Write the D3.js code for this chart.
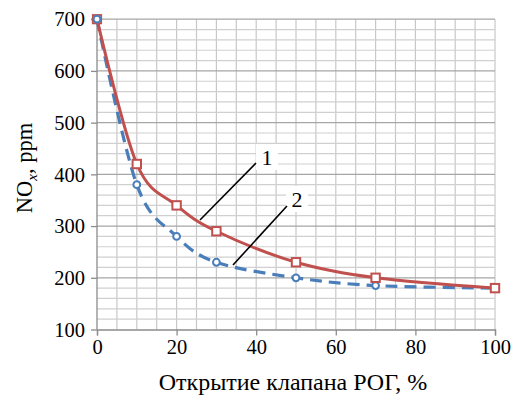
<!DOCTYPE html>
<html><head><meta charset="utf-8">
<script src="https://cdn.jsdelivr.net/npm/d3@7"></script>
<style>body{margin:0;background:#fff}svg{display:block}
text{font-family:"Liberation Serif","Times New Roman",serif}</style>
</head><body>
<svg id="c" width="512" height="396"></svg>
<script>
const xValues = [0, 10, 20, 30, 50, 70, 100];
const series1 = [700, 420, 340, 290, 230, 200, 180];
const series2 = [700, 380, 280, 230, 200, 185, 180];
const xTicks = [0, 20, 40, 60, 80, 100];
const yTicks = [100, 200, 300, 400, 500, 600, 700];
const xLabel = "Открытие клапана РОГ, %";

const svg = d3.select("#c");
const x = d3.scaleLinear().domain([0, 100]).range([97, 495]);
const y = d3.scaleLinear().domain([100, 700]).range([329.5, 19.2]);
const font = "Liberation Serif";

// grid
const g = svg.append("g");
g.selectAll(".vg").data(d3.range(5, 101, 5)).join("line")
  .attr("x1", d => x(d)).attr("x2", d => x(d))
  .attr("y1", y(700)).attr("y2", y(100))
  .attr("stroke", "#c8c8c8").attr("stroke-width", 1.2);
g.selectAll(".hg").data(d3.range(120, 701, 20)).join("line")
  .attr("x1", x(0)).attr("x2", x(100))
  .attr("y1", d => y(d)).attr("y2", d => y(d))
  .attr("stroke", d => d % 100 === 0 ? "#a6a6a6" : "#d0d0d0").attr("stroke-width", 1.2);

// axes
const xAxis = d3.axisBottom(x).tickValues(xTicks).tickSize(6).tickPadding(4);
const yAxis = d3.axisLeft(y).tickValues(yTicks).tickSize(6).tickPadding(6);
const gx = svg.append("g").attr("transform", `translate(0,${y(100)})`).call(xAxis);
const gy = svg.append("g").attr("transform", `translate(${x(0)},0)`).call(yAxis);
[gx, gy].forEach(a => {
  a.attr("font-family", null).attr("font-size", null);
  a.select(".domain").attr("stroke", "#8c8c8c").attr("stroke-width", 1.3);
  a.selectAll(".tick line").attr("stroke", "#8c8c8c").attr("stroke-width", 1.3);
  a.selectAll("text").style("font-family", font).style("font-size", "20.5px").attr("fill", "#000");
});
gy.selectAll(".tick text").attr("dy", "0.33em");
gy.select(".domain").attr("d", `M-6,${y(700)}H0V${y(100)}`);

// lines
const pts1 = xValues.map((d, i) => [d, series1[i]]);
const pts2 = xValues.map((d, i) => [d, series2[i]]);
const line = d3.line().x(d => x(d[0])).y(d => y(d[1])).curve(d3.curveCatmullRom.alpha(0));

svg.append("path").attr("d", line(pts2)).attr("fill", "none")
  .attr("stroke", "#4a7ebb").attr("stroke-width", 3.2).attr("stroke-dasharray", "12,7");
svg.append("path").attr("d", line(pts1)).attr("fill", "none")
  .attr("stroke", "#c0504d").attr("stroke-width", 3);

svg.selectAll(".m2").data(pts2).join("circle")
  .attr("cx", d => x(d[0])).attr("cy", d => y(d[1])).attr("r", 3.4)
  .attr("fill", "#fff").attr("stroke", "#4a7ebb").attr("stroke-width", 2);
svg.selectAll(".m1").data(pts1.slice(1)).join("rect")
  .attr("x", d => x(d[0]) - 4.2).attr("y", d => y(d[1]) - 4.2).attr("width", 8.4).attr("height", 8.4)
  .attr("fill", "#fff").attr("stroke", "#c0504d").attr("stroke-width", 2);
// first point: square under circle
svg.append("rect").attr("x", x(0) - 4.2).attr("y", y(700) - 4.2).attr("width", 8.4).attr("height", 8.4)
  .attr("fill", "none").attr("stroke", "#c0504d").attr("stroke-width", 1.8);
svg.append("circle").attr("cx", x(0)).attr("cy", y(700)).attr("r", 3.4)
  .attr("fill", "#fff").attr("stroke", "#4a7ebb").attr("stroke-width", 2);

// leader lines and labels
const ann = [
  {t: "1", x1: 200, y1: 220, x2: 256, y2: 163, tx: 267, ty: 165},
  {t: "2", x1: 233, y1: 265, x2: 287, y2: 206, tx: 297, ty: 207}
];
ann.forEach(a => {
  svg.append("rect").attr("x", a.tx - 11).attr("y", a.ty - 21).attr("width", 22).attr("height", 26).attr("fill", "#fff");
  svg.append("line").attr("x1", a.x1).attr("y1", a.y1).attr("x2", a.x2).attr("y2", a.y2)
    .attr("stroke", "#000").attr("stroke-width", 1.6);
  svg.append("text").attr("x", a.tx).attr("y", a.ty).attr("text-anchor", "middle")
    .style("font-family", font).style("font-size", "22px").text(a.t);
});

// axis titles
svg.append("text").attr("x", 293).attr("y", 390).attr("text-anchor", "middle")
  .style("font-family", font).style("font-size", "24px").text(xLabel);
const yt = svg.append("text").attr("transform", "translate(31.5,168) rotate(-90)")
  .attr("text-anchor", "middle").style("font-family", font).style("font-size", "22.5px");
yt.append("tspan").text("NO");
yt.append("tspan").style("font-style", "italic").style("font-size", "15px").attr("dy", 5).text("x");
yt.append("tspan").attr("dy", -5).text(", ppm");
</script>
</body></html>
